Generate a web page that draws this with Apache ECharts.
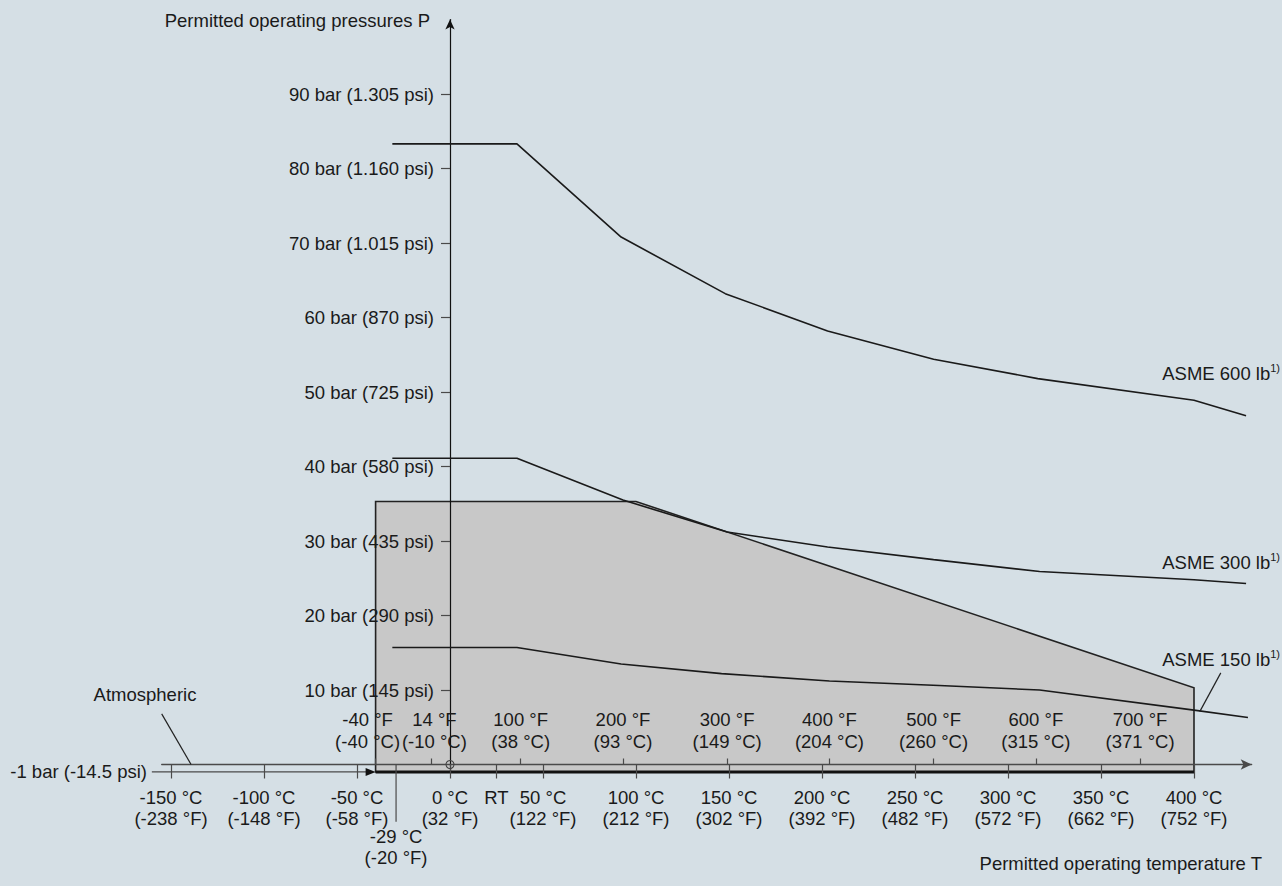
<!DOCTYPE html>
<html><head><meta charset="utf-8">
<script src="https://cdn.jsdelivr.net/npm/echarts@6/dist/echarts.min.js"></script>
<style>html,body{margin:0;padding:0;background:#d5dfe5}#c{width:1282px;height:886px}</style>
</head><body><div id="c"></div>
<script>
// ---------- data ----------
const pressureTicks = [10, 20, 30, 40, 50, 60, 70, 80, 90];
const pressureLabels = ['10 bar (145 psi)', '20 bar (290 psi)', '30 bar (435 psi)', '40 bar (580 psi)',
  '50 bar (725 psi)', '60 bar (870 psi)', '70 bar (1.015 psi)', '80 bar (1.160 psi)', '90 bar (1.305 psi)'];
const celsiusTicks = [-150, -100, -50, 0, 25, 50, 100, 150, 200, 250, 300, 350, 400];
const celsiusLabels = ['-150 °C\n(-238 °F)', '-100 °C\n(-148 °F)', '-50 °C\n(-58 °F)', '0 °C\n(32 °F)', 'RT',
  '50 °C\n(122 °F)', '100 °C\n(212 °F)', '150 °C\n(302 °F)', '200 °C\n(392 °F)', '250 °C\n(482 °F)',
  '300 °C\n(572 °F)', '350 °C\n(662 °F)', '400 °C\n(752 °F)'];
const fahrenheitTicks = [-40, -10, 38, 93, 149, 204, 260, 315, 371];
const fahrenheitLabels = ['-40 °F\n(-40 °C)', '14 °F\n(-10 °C)', '100 °F\n(38 °C)', '200 °F\n(93 °C)',
  '300 °F\n(149 °C)', '400 °F\n(204 °C)', '500 °F\n(260 °C)', '600 °F\n(315 °C)', '700 °F\n(371 °C)'];
const minTempTick = -29;
const minTempLabel = '-29 °C\n(-20 °F)';

const asme600T = [-31, 36, 92, 148, 203, 260, 316, 400, 428];
const asme600P = [83.3, 83.3, 70.8, 63.2, 58.2, 54.4, 51.8, 48.9, 46.8];
const asme300T = [-31, 36, 93, 149, 203, 260, 317, 400, 428];
const asme300P = [41.1, 41.1, 35.5, 31.2, 29.2, 27.5, 25.9, 24.8, 24.3];
const asme150T = [-31, 36, 92, 146, 204, 263, 317, 400, 429];
const asme150P = [15.7, 15.7, 13.5, 12.2, 11.2, 10.6, 10.0, 7.3, 6.3];
const rangeT = [-40, -40, 100, 400, 400];
const rangeP = [-1, 35.3, 35.3, 10.3, -1];

const vacuumLineT = [-160.3, -40];   // -1 bar line up to device range
const vacuumP = -1;
const minTempTickP = [0, -7.7];
const atmLeaderT = [-155, -139.2], atmLeaderP = [6.8, 0];
const a150LeaderT = [414.4, 403.1], a150LeaderP = [12.3, 7.1];

// ---------- style ----------
const FONT = '"Liberation Sans", Arial, sans-serif';
const FS = 18.5;
const TXT = '#1a1a1a';
const AX = '#4a4a4a';
const LINE = '#1a1a1a';

const GRID = { left: 161.7, top: 19.5, width: 1089.96, height: 752.45 };
const ZERO_X = 450;       // pixel of 0 °C (y axis position)
const ZERO_Y = 764.5;     // pixel of 0 bar (atmospheric line)

const pair = (xs, ys) => xs.map((x, i) => [x, Array.isArray(ys) ? ys[i] : ys]);
const lookup = (ticks, labels) => v => { const i = ticks.findIndex(t => Math.abs(t - v) < 1e-6); return i < 0 ? '' : labels[i]; };

const chart = echarts.init(document.getElementById('c'), null, { renderer: 'svg' });
const lineSeries = (name, data, w, color) => ({
  name, type: 'line', data, symbol: 'none', clip: false, z: 6, silent: true,
  lineStyle: { color: color || LINE, width: w || 1.6 }, animation: false
});

const textStyle = (extra) => Object.assign({ fontFamily: FONT, fontSize: FS, fill: TXT }, extra);
const supRich = {
  n: { fontFamily: FONT, fontSize: FS, fill: TXT, color: TXT, lineHeight: 22 },
  s: { fontFamily: FONT, fontSize: 11, fill: TXT, color: TXT, lineHeight: 12, verticalAlign: 'top' }
};
const gridBottom = GRID.top + GRID.height;
const fLabelTicks = fahrenheitTicks.slice(2);       // first two labels placed separately (tight pair)
const fLabelOffsets = [-8, 3];

chart.setOption({
  backgroundColor: '#d5dfe5',
  animation: false,
  grid: Object.assign({ outerBoundsMode: 'none', containLabel: false }, GRID),
  xAxis: [
    { // atmospheric (0 bar) line with °F marks
      type: 'value', min: -155, max: 431, position: 'bottom', offset: ZERO_Y - gridBottom, z: 5,
      axisLine: { show: true, onZero: false, symbol: ['none', 'arrow'], symbolSize: [8, 11], lineStyle: { color: AX, width: 1.3 } },
      axisTick: { show: true, inside: true, length: 6, customValues: fahrenheitTicks, lineStyle: { color: AX, width: 1.2 } },
      axisLabel: { show: true, inside: true, margin: 12, hideOverlap: false, customValues: fLabelTicks, formatter: lookup(fahrenheitTicks, fahrenheitLabels),
        fontFamily: FONT, fontSize: FS, color: TXT, lineHeight: 22 },
      splitLine: { show: false }
    },
    { // -1 bar line with °C marks
      type: 'value', min: -155, max: 431, position: 'bottom', offset: ZERO_Y - gridBottom, z: 5,
      axisLine: { show: false, onZero: false },
      axisTick: { show: true, length: 14, customValues: celsiusTicks, lineStyle: { color: AX, width: 1.2 } },
      axisLabel: { show: true, margin: 22, hideOverlap: false, customValues: celsiusTicks, formatter: lookup(celsiusTicks, celsiusLabels),
        fontFamily: FONT, fontSize: FS, color: TXT, lineHeight: 21 },
      splitLine: { show: false }
    }
  ],
  yAxis: {
    type: 'value', min: -1, max: 100, position: 'left', offset: GRID.left - ZERO_X, z: 5,
    axisLine: { show: true, onZero: false, symbol: ['none', 'arrow'], symbolSize: [7, 10], lineStyle: { color: '#111', width: 1.2 } },
    axisTick: { show: true, length: 9, customValues: pressureTicks, lineStyle: { color: AX, width: 1.2 } },
    axisLabel: { show: true, margin: 16, hideOverlap: false, customValues: pressureTicks, formatter: lookup(pressureTicks, pressureLabels),
      fontFamily: FONT, fontSize: FS, color: TXT },
    splitLine: { show: false }
  },
  series: [
    {
      name: 'Device range', type: 'custom', z: 1, silent: true,
      data: pair(rangeT, rangeP),
      encode: { x: 0, y: 1 },
      renderItem(params, api) {
        if (params.dataIndex !== 0) return null;
        const pts = rangeT.map((t, i) => api.coord([t, rangeP[i]]));
        return { type: 'group', children: [
          { type: 'polygon', shape: { points: pts }, style: { fill: '#c8c8c8', stroke: '#222', lineWidth: 1.6 } },
          { type: 'line', shape: { x1: pts[0][0], y1: pts[0][1], x2: pts[4][0], y2: pts[4][1] }, style: { stroke: '#111', lineWidth: 3 } }
        ] };
      }
    },
    {
      name: 'vacuum line', type: 'custom', z: 6, silent: true, clip: false,
      data: pair(vacuumLineT, vacuumP),
      encode: { x: 0, y: 1 },
      renderItem(params, api) {
        if (params.dataIndex !== 0) return null;
        const a = api.coord([vacuumLineT[0], vacuumP]);
        const b = api.coord([vacuumLineT[1], vacuumP]);
        return { type: 'group', children: [
          { type: 'line', shape: { x1: a[0], y1: a[1], x2: b[0] - 8, y2: b[1] }, style: { stroke: AX, lineWidth: 1.3 } },
          { type: 'polygon', shape: { points: [[b[0], b[1]], [b[0] - 10, b[1] - 4], [b[0] - 10, b[1] + 4]] }, style: { fill: '#111' } }
        ] };
      }
    },
    lineSeries('ASME 600 lb', pair(asme600T, asme600P)),
    lineSeries('ASME 300 lb', pair(asme300T, asme300P)),
    lineSeries('ASME 150 lb', pair(asme150T, asme150P)),
    lineSeries('min temp tick', pair([minTempTick, minTempTick], minTempTickP), 1.2, AX),
    lineSeries('atm leader', pair(atmLeaderT, atmLeaderP), 1.2, '#222'),
    lineSeries('150 leader', pair(a150LeaderT, a150LeaderP), 1.2, '#222'),
    {
      name: 'origin', type: 'scatter', data: [[0, 0]], symbol: 'circle', symbolSize: 8, z: 7, silent: true,
      itemStyle: { color: 'rgba(0,0,0,0)', borderColor: '#444', borderWidth: 1.1, opacity: 1 }
    },
    {
      name: 'min temp label', type: 'scatter', clip: false, silent: true, z: 7,
      data: [[minTempTick, minTempTickP[1]]], symbolSize: 0, itemStyle: { opacity: 1 },
      label: { show: true, position: 'bottom', distance: 4, formatter: minTempLabel, fontFamily: FONT, fontSize: FS, color: TXT, lineHeight: 21, align: 'center' }
    },
    {
      name: 'low °F labels', type: 'scatter', clip: false, silent: true, z: 7, symbolSize: 0, itemStyle: { opacity: 1 },
      data: fahrenheitTicks.slice(0, 2).map((t, i) => ({
        value: [t, 0],
        label: { offset: [fLabelOffsets[i], 0], formatter: fahrenheitLabels[i] }
      })),
      label: { show: true, position: 'top', distance: 12, fontFamily: FONT, fontSize: FS, color: TXT, lineHeight: 22, align: 'center' }
    }
  ],
  graphic: [
    { type: 'text', x: 430, y: 20, style: textStyle({ text: 'Permitted operating pressures P', align: 'right', verticalAlign: 'middle' }) },
    { type: 'text', x: 1262, y: 863, style: textStyle({ text: 'Permitted operating temperature T', align: 'right', verticalAlign: 'middle' }) },
    { type: 'text', x: 145, y: 694, style: textStyle({ text: 'Atmospheric', align: 'center', verticalAlign: 'middle' }) },
    { type: 'text', x: 147, y: 771, style: textStyle({ text: '-1 bar (-14.5 psi)', align: 'right', verticalAlign: 'middle' }) },
    { type: 'text', x: 1280, y: 373, style: textStyle({ text: '{n|ASME 600 lb}{s|1)}', rich: supRich, align: 'right', verticalAlign: 'middle' }) },
    { type: 'text', x: 1280, y: 562, style: textStyle({ text: '{n|ASME 300 lb}{s|1)}', rich: supRich, align: 'right', verticalAlign: 'middle' }) },
    { type: 'text', x: 1280, y: 659, style: textStyle({ text: '{n|ASME 150 lb}{s|1)}', rich: supRich, align: 'right', verticalAlign: 'middle' }) }
  ]
});
</script>
</body></html>
